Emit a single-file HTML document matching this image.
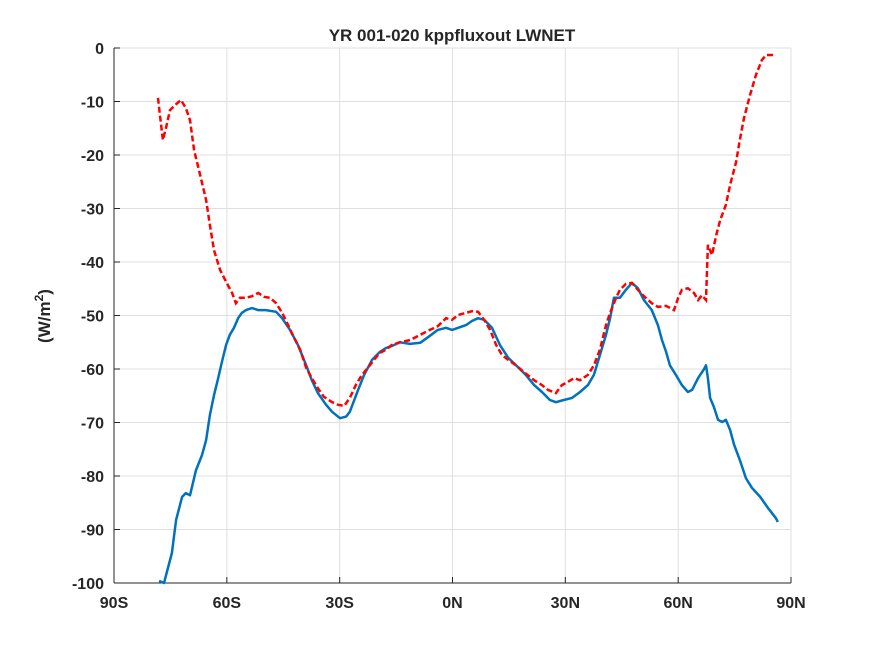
<!DOCTYPE html>
<html><head><meta charset="utf-8"><style>
body{margin:0;background:#fff;}
svg text{font-family:"Liberation Sans",sans-serif;font-weight:bold;fill:#262626;}
</style></head><body>
<svg id="chart" width="875" height="656" xmlns="http://www.w3.org/2000/svg">
<rect width="875" height="656" fill="#fff"/>
<g id="grid"></g>
<g id="axes"></g>
<g id="series"></g>
<text x="452" y="41" text-anchor="middle" font-size="17">YR 001-020 kppfluxout LWNET</text>
<text transform="translate(50,316) rotate(-90)" text-anchor="middle" font-size="17">(W/m<tspan dy="-7" font-size="12">2</tspan><tspan dy="7">)</tspan></text>
</svg>
<script>
const xTicks=[-90,-60,-30,0,30,60,90];
const xTickLabels=["90S","60S","30S","0N","30N","60N","90N"];
const yTicks=[0,-10,-20,-30,-40,-50,-60,-70,-80,-90,-100];
const blueLat=[-78.0,-76.7,-74.6,-73.5,-71.9,-70.9,-69.8,-68.2,-66.6,-65.5,-64.5,-63.4,-62.3,-61.3,-60.2,-59.2,-58.1,-57.0,-56.0,-54.9,-53.3,-51.7,-49.6,-46.9,-45.3,-43.2,-41.1,-38.9,-37.4,-35.8,-33.6,-32.0,-29.9,-28.3,-27.3,-25.1,-23.5,-21.4,-19.3,-17.7,-16.1,-14.0,-11.3,-8.6,-6.0,-3.9,-1.7,-0.1,1.5,3.6,5.2,6.8,8.4,10.5,12.6,14.8,16.9,19.5,21.7,23.8,25.9,27.5,29.6,31.8,33.9,36.0,37.6,39.2,40.8,41.9,42.9,44.5,46.1,47.7,49.3,50.9,53.0,54.6,55.7,56.8,57.8,59.4,61.0,62.6,63.7,65.3,66.9,67.4,67.9,68.5,69.5,70.6,71.7,72.7,73.8,74.9,76.4,78.0,79.6,81.8,83.9,86.0,86.5];
const blueVal=[-99.6,-100,-94.4,-88.2,-83.9,-83.2,-83.6,-78.9,-76.1,-73.3,-68.6,-64.9,-61.7,-58.7,-55.5,-53.6,-52.3,-50.5,-49.5,-49.0,-48.6,-49.0,-49.0,-49.3,-50.5,-52.7,-55.5,-59.3,-62.1,-64.5,-66.7,-68.0,-69.2,-68.9,-68.0,-63.9,-61.1,-58.3,-56.8,-56.1,-55.7,-55.0,-55.3,-55.1,-53.8,-52.7,-52.3,-52.7,-52.3,-51.8,-51.0,-50.5,-50.8,-52.3,-55.5,-57.9,-59.3,-61.1,-63.0,-64.3,-65.8,-66.2,-65.8,-65.4,-64.3,-63.0,-61.1,-57.4,-53.6,-50.5,-46.7,-46.7,-45.2,-43.9,-44.9,-47.1,-49.0,-51.8,-54.6,-56.8,-59.3,-61.1,-63.0,-64.3,-63.9,-61.7,-60.0,-59.3,-61.7,-65.4,-67.1,-69.5,-69.9,-69.5,-71.4,-74.2,-77.0,-80.4,-82.2,-83.9,-86.0,-87.9,-88.6];
const redLat=[-78.3,-77.8,-77.0,-76.2,-75.1,-73.5,-72.2,-70.9,-69.8,-68.7,-67.1,-65.5,-64.5,-63.4,-61.8,-60.2,-58.6,-57.6,-56.5,-54.9,-53.3,-51.7,-50.1,-48.5,-46.9,-45.3,-43.7,-42.1,-40.5,-38.9,-37.4,-35.8,-34.2,-32.0,-30.4,-28.8,-27.3,-25.7,-24.1,-22.5,-20.9,-19.3,-17.7,-16.1,-14.0,-11.3,-8.6,-6.0,-3.9,-1.7,-0.1,1.5,3.6,5.2,6.8,8.4,10.0,11.6,13.2,14.8,16.9,19.0,21.7,23.8,25.4,27.5,29.1,30.7,32.3,33.9,36.0,37.6,39.2,40.8,41.9,43.5,44.5,46.1,47.7,49.3,50.9,53.0,54.6,56.8,58.9,60.0,61.0,62.6,64.2,65.3,66.3,67.4,67.9,69.0,70.1,71.2,72.7,73.8,75.4,76.4,77.5,79.1,80.7,82.3,83.4,86.0];
const redVal=[-9.3,-12.5,-17.2,-15.0,-11.6,-10.5,-9.7,-11.2,-13.5,-19.1,-23.7,-28.4,-33.1,-37.8,-41.5,-43.7,-45.8,-47.7,-46.7,-46.7,-46.4,-45.8,-46.5,-46.7,-47.7,-49.5,-51.8,-54.2,-56.4,-59.8,-61.7,-63.6,-65.2,-66.2,-66.7,-66.9,-65.4,-63.0,-61.1,-59.8,-58.3,-57.0,-56.4,-55.5,-55.0,-54.6,-53.6,-52.7,-52.0,-50.5,-50.8,-49.9,-49.5,-49.2,-49.3,-50.8,-52.7,-55.5,-57.4,-58.3,-59.3,-60.6,-62.1,-63.0,-63.9,-64.5,-63.0,-62.4,-61.7,-62.1,-61.1,-59.3,-56.4,-51.8,-49.5,-46.7,-45.2,-44.1,-43.9,-45.2,-46.4,-47.7,-48.4,-48.2,-49.0,-46.7,-45.2,-44.9,-45.8,-47.1,-46.2,-47.1,-36.8,-38.7,-35.0,-32.1,-29.3,-25.6,-21.3,-17.2,-13.1,-8.8,-5.0,-2.2,-1.3,-1.3];

const X0=114,X1=791,Y0=48,Y1=583;
const sx=v=>X0+(v+90)/180*(X1-X0);
const sy=v=>Y0+(0-v)/100*(Y1-Y0);
const NS="http://www.w3.org/2000/svg";
function mk(tag,attrs,parent){const e=document.createElementNS(NS,tag);for(const k in attrs)e.setAttribute(k,attrs[k]);parent.appendChild(e);return e;}
const grid=document.getElementById('grid'),axes=document.getElementById('axes'),series=document.getElementById('series');
xTicks.forEach((t,i)=>{
  const l=mk('line',{x1:sx(t),x2:sx(t),y1:Y0,y2:Y1,stroke:'#dfdfdf','stroke-width':1},grid);
  
  
  const tk=mk('line',{x1:sx(t),x2:sx(t),y1:Y1,y2:Y1-6,stroke:'#262626','stroke-width':1},axes);
  
  
  const tx=mk('text',{x:sx(t),y:Y1+25,'text-anchor':'middle','font-size':16},axes);
  tx.textContent=xTickLabels[i];
  
  
});
yTicks.forEach(t=>{
  const l=mk('line',{x1:X0,x2:X1,y1:sy(t),y2:sy(t),stroke:'#dfdfdf','stroke-width':1},grid);
  
  
  const tk=mk('line',{x1:X0,x2:X0+6,y1:sy(t),y2:sy(t),stroke:'#262626','stroke-width':1},axes);
  
  
  const tx=mk('text',{x:X0-10,y:sy(t)+6,'text-anchor':'end','font-size':16},axes);
  tx.textContent=String(t);
  
  
});
const ax=mk('line',{x1:X0,x2:X0,y1:Y0,y2:Y1,stroke:'#262626','stroke-width':1},axes);


const bx=mk('line',{x1:X0,x2:X1,y1:Y1,y2:Y1,stroke:'#262626','stroke-width':1},axes);


function path(lat,val){return lat.map((v,i)=>(i?'L':'M')+sx(v).toFixed(1)+','+sy(val[i]).toFixed(1)).join(' ');}
const b=mk('path',{d:path(blueLat,blueVal),fill:'none',stroke:'#0072BD','stroke-width':2.5,'stroke-linejoin':'round'},series);


const r=mk('path',{d:path(redLat,redVal),fill:'none',stroke:'#ff0000','stroke-width':2.5,'stroke-dasharray':'6,3'},series);


</script>
</body></html>
